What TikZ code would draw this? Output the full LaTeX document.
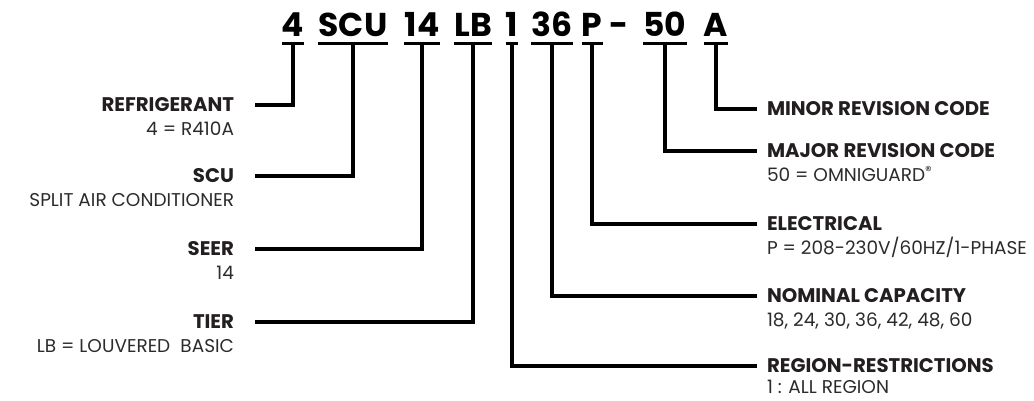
\documentclass[tikz,border=0pt]{standalone}
\usepackage{fontspec}
\setmainfont{Poppins}
\usetikzlibrary{positioning}
\definecolor{inkgrey}{HTML}{231F20}
\definecolor{subgrey}{HTML}{2B2B2B}
\tikzset{
  code node/.style={
    font=\fontsize{33}{33}\selectfont\bfseries,
    text=black,
    inner sep=0pt,
    anchor=base,
  },
  head node/.style={
    font=\fontsize{19.7}{19.7}\selectfont\bfseries,
    text=inkgrey,
    inner sep=0pt,
    text height=13.5pt,
    text depth=0pt,
  },
  sub node/.style={
    font=\fontsize{18.5}{18.5}\selectfont,
    text=subgrey,
    inner sep=0pt,
  },
  left label/.style={anchor=east, outer xsep=21pt},
  right label/.style={anchor=west, outer xsep=10pt},
  code line/.style={line width=3pt},
  lead line/.style={line width=3.5pt},
}

\begin{document}
\begin{tikzpicture}[x=1pt, y=-1pt]
        \useasboundingbox (0,0) rectangle (1034,400);

        % the model number
        \node[code node] (c4)   at (293,36) {4};
        \node[code node] (cscu) at (353,36) {SCU};
        \node[code node] (c14)  at (422,36) {14};
        \node[code node] (clb)  at (473,36) {LB};
        \node[code node] (c1)   at (512,36) {1};
        \node[code node] (c36)  at (552,36) {36};
        \node[code node] (cp)   at (592,36) {P};
        \node[code node] (cdash) at (619,36) {-};
        \node[code node] (c50)  at (665,36) {50};
        \node[code node] (ca)   at (716,36) {A};

        \foreach \c in {c4, cscu, c14, clb, c1, c36, cp, c50, ca}
          \draw[code line] ([yshift=-7pt]\c.base west) -- ([yshift=-7pt]\c.base east);

        % left labels
        \node[head node, left label] (refrig) at (255,105) {REFRIGERANT};
        \node[head node, left label] (scu)    at (255,176) {SCU};
        \node[head node, left label] (seer)   at (255,249) {SEER};
        \node[head node, left label] (tier)   at (255,322) {TIER};

        \node[sub node, left label, anchor=base east] (refrigsub) at ([yshift=-24pt]refrig.base east) {4 = R410A};
        \node[sub node, left label, anchor=base east] (scusub)    at ([yshift=-24pt]scu.base east) {SPLIT AIR CONDITIONER};
        \node[sub node, left label, anchor=base east] (seersub)   at ([yshift=-24pt]seer.base east) {14};
        \node[sub node, left label, anchor=base east] (tiersub)   at ([yshift=-24pt]tier.base east) {LB = LOUVERED\hspace{0.55em}BASIC};

        % right labels
        \node[head node, right label] (minor)  at (757,109) {MINOR REVISION CODE};
        \node[head node, right label] (major)  at (757,151) {MAJOR REVISION CODE};
        \node[head node, right label] (elec)   at (757,224) {ELECTRICAL};
        \node[head node, right label] (cap)    at (757,296) {NOMINAL CAPACITY};
        \node[head node, right label] (region) at (757,366) {REGION-RESTRICTIONS};

        \node[sub node, right label, anchor=base west] (majorsub)  at ([yshift=-24pt]major.base west) {50 = OMNIGUARD\textsuperscript{®}};
        \node[sub node, right label, anchor=base west] (elecsub)   at ([yshift=-24pt]elec.base west) {P = 208-230V/60HZ/1-PHASE};
        \node[sub node, right label, anchor=base west] (capsub)    at ([yshift=-24pt]cap.base west) {18, 24, 30, 36, 42, 48, 60};
        \node[sub node, right label, anchor=base west] (regionsub) at ([yshift=-21pt]region.base west) {1 : ALL REGION};

        % leaders
        \draw[lead line] ([yshift=-7pt]c4.base)   |- (refrig.east);
        \draw[lead line] ([yshift=-7pt]cscu.base) |- (scu.east);
        \draw[lead line] ([yshift=-7pt]c14.base)  |- (seer.east);
        \draw[lead line] ([yshift=-7pt]clb.base)  |- (tier.east);

        \draw[lead line] ([yshift=-7pt]ca.base)  |- (minor.west);
        \draw[lead line] ([yshift=-7pt]c50.base) |- (major.west);
        \draw[lead line] ([yshift=-7pt]cp.base)  |- (elec.west);
        \draw[lead line] ([yshift=-7pt]c36.base) |- (cap.west);
        \draw[lead line] ([yshift=-7pt]c1.base)  |- (region.west);
      \end{tikzpicture}
\end{document}
